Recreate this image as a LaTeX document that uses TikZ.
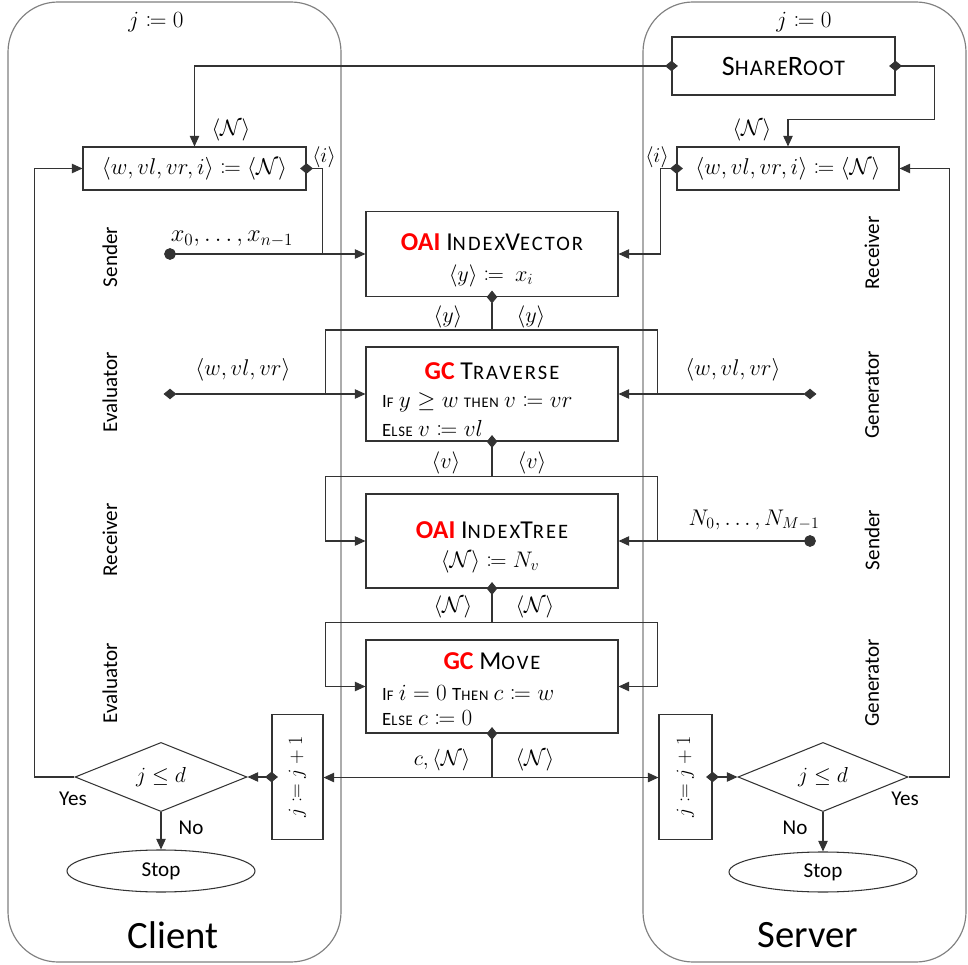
\documentclass[tikz,border=0pt]{standalone}
\usepackage{fix-cm}
\usepackage{amsmath,amssymb,mathtools}
\usepackage{fontspec}
\setmainfont{Carlito}
\usetikzlibrary{arrows.meta,shapes.geometric,calc}

\definecolor{lanegray}{HTML}{808080}
\definecolor{linegray}{HTML}{333333}
\definecolor{protored}{HTML}{FF0000}

\newcommand\pxu{0.3mm}
\newcommand\fs[1]{\fontsize{#1}{#1}\selectfont}
% hand-made small capitals for titles and box lines
\newcommand\tsc[2]{{\fs{22}#1}{\fs{17.5}\addfontfeature{LetterSpace=10}#2}}
\newcommand\rsc[2]{{\fs{24}#1}{\fs{19}\addfontfeature{LetterSpace=5}#2}}
\newcommand\lsc[2]{{\fs{16}#1}{\fs{12.5}\addfontfeature{LetterSpace=5}#2}}
\newcommand\proto[1]{\textcolor{protored}{\bfseries #1}}

\tikzset{
  DM/.tip={Diamond[length=11pt,width=9pt]},
  TR/.tip={Triangle[length=9pt,width=8pt]},
  DT/.tip={Circle[length=10pt]},
  conn/.style={draw=linegray, line width=0.9pt},
  dstart/.style={shorten <=-5.5pt},
  dotstart/.style={shorten <=-5pt},
  box/.style={draw=linegray, line width=0.9pt, rectangle, inner sep=0pt},
  lane/.style={draw=lanegray, line width=1pt, rectangle, rounded corners=15mm, inner sep=0pt},
  lbl/.style={inner sep=0pt, font=\fs{19}},
  role/.style={inner sep=0pt, rotate=90, font=\fs{18}},
  title/.style={inner sep=0pt, font=\fs{22}},
  boxline/.style={inner sep=0pt, anchor=west, font=\fs{19.8}},
}

\begin{document}
\begin{tikzpicture}[x=0.3mm, y=-0.3mm]
\useasboundingbox (0,0) rectangle (968,965);

% swim lanes
\node[lane, minimum width=333*\pxu, minimum height=960*\pxu] (client) at (174.5,482) {};
\node[lane, minimum width=323*\pxu, minimum height=960*\pxu] (server) at (804.5,482) {};
\node[lbl, font=\fs{33}] (clientname) at (173,935) {Client};
\node[lbl, font=\fs{33}] (servername) at (808,935) {Server};
\node[lbl, font=\fs{19.8}] (cj0) at (156,22) {$j \coloneqq 0$};
\node[lbl, font=\fs{19.8}] (sj0) at (804,22) {$j \coloneqq 0$};

% roles of each party
\node[role] (crole1) at (110,257) {Sender};
\node[role] (crole2) at (110,392) {Evaluator};
\node[role] (crole3) at (110,540) {Receiver};
\node[role] (crole4) at (110,683) {Evaluator};
\node[role] (srole1) at (872,253) {Receiver};
\node[role] (srole2) at (872,395) {Generator};
\node[role] (srole3) at (872,540) {Sender};
\node[role] (srole4) at (872,683) {Generator};

% boxes
\node[box, minimum width=223*\pxu, minimum height=58*\pxu, font=\fs{24}] (share) at (783.5,66) {\rsc{S}{HARE}\rsc{R}{OOT}};
\node[box, minimum width=223*\pxu, minimum height=43*\pxu, font=\fs{19.5}] (cinit) at (194.5,168.5) {$\langle w, vl, vr, i\rangle \coloneqq \langle\mathcal{N}\rangle$};
\node[box, minimum width=222*\pxu, minimum height=43*\pxu, font=\fs{19.5}] (sinit) at (788,168.5) {$\langle w, vl, vr, i\rangle \coloneqq \langle\mathcal{N}\rangle$};

\node[box, minimum width=252*\pxu, minimum height=85*\pxu] (ivec) at (492,254) {};
\node[title] (ivect) at (492,242) {\proto{OAI} \tsc{I}{NDEX}\tsc{V}{ECTOR}};
\node[lbl, font=\fs{19}] (ivecl) at (491,276) {$\langle y\rangle \coloneqq\ x_i$};

\node[box, minimum width=252*\pxu, minimum height=94*\pxu] (trav) at (492,394) {};
\node[title] (travt) at (492,371) {\proto{GC} \tsc{T}{RAVERSE}};
\node[boxline] (trav1) at (382,402) {\lsc{I}{F} $y \geq w$ {\fs{12.5}\addfontfeature{LetterSpace=5}THEN} $v \coloneqq vr$};
\node[boxline] (trav2) at (382,428) {\lsc{E}{LSE} $v \coloneqq vl$};

\node[box, minimum width=252*\pxu, minimum height=94*\pxu] (itree) at (492,541) {};
\node[title] (itreet) at (492,530) {\proto{OAI} \tsc{I}{NDEX}\tsc{T}{REE}};
\node[lbl, font=\fs{19.2}] (itreel) at (490,562) {$\langle\mathcal{N}\rangle \coloneqq N_v$};

\node[box, minimum width=252*\pxu, minimum height=93*\pxu] (move) at (492,686.5) {};
\node[title] (movet) at (492,661) {\proto{GC} \tsc{M}{OVE}};
\node[boxline] (move1) at (382,693) {\lsc{I}{F} $i = 0$ \lsc{T}{HEN} $c \coloneqq w$};
\node[boxline] (move2) at (382,718) {\lsc{E}{LSE} $c \coloneqq 0$};

\node[box, minimum width=51*\pxu, minimum height=125*\pxu] (cinc) at (297.5,777) {};
\node[lbl, rotate=90, font=\fs{17.3}] (cinct) at (cinc.center) {$j \coloneqq j+1$};
\node[box, minimum width=53*\pxu, minimum height=125*\pxu] (sinc) at (685.5,777) {};
\node[lbl, rotate=90, font=\fs{17.3}] (sinct) at (sinc.center) {$j \coloneqq j+1$};

\node[draw=linegray, line width=0.9pt, diamond, minimum width=172*\pxu, minimum height=59*\pxu, inner sep=0pt, font=\fs{18.5}] (cdec) at (161,777) {$j \leq d$};
\node[draw=linegray, line width=0.9pt, diamond, minimum width=170*\pxu, minimum height=59*\pxu, inner sep=0pt, font=\fs{18.5}] (sdec) at (823,777) {$j \leq d$};

\node[draw=linegray, line width=0.9pt, ellipse, minimum width=188*\pxu, minimum height=42*\pxu, inner sep=0pt, font=\fs{18}] (cstop) at (161,871) {Stop};
\node[draw=linegray, line width=0.9pt, ellipse, minimum width=188*\pxu, minimum height=40*\pxu, inner sep=0pt, font=\fs{18}] (sstop) at (823,872) {Stop};

% root shares
\draw[conn, DM-TR, dstart] (share.west) -| (cinit.north);
\draw[conn, DM-TR, dstart] (share.east) -- ++(39,0) |- ($(sinit.north)+(0,-27)$) -- (sinit.north);
\node[lbl] (nlab1) at (231,130) {$\langle\mathcal{N}\rangle$};
\node[lbl] (nlab2) at (752,130) {$\langle\mathcal{N}\rangle$};

% index vector inputs
\coordinate (x0dot) at (170,254);
\coordinate (ndot) at (810,541);
\coordinate (cwv) at (170,394);
\coordinate (swv) at (810,394);
\draw[conn, DM-, dstart] (cinit.east) -| ($(ivec.west)+(-43,0)$);
\draw[conn, DT-TR, dotstart] (x0dot) -- (ivec.west);
\draw[conn, DM-TR, dstart] (sinit.west) -| ($(ivec.east)+(42,0)$) -- (ivec.east);
\node[lbl, font=\fs{18}] (ilab1) at (324,157) {$\langle i\rangle$};
\node[lbl, font=\fs{18}] (ilab2) at (657,157) {$\langle i\rangle$};
\node[lbl, font=\fs{20.9}] (xlab) at (232,239) {$x_0, \dots, x_{n-1}$};

% index vector to traverse
\coordinate (ys) at ($(ivec.south)+(0,33)$);
\draw[conn, DM-, dstart] (ivec.south) -- (ys);
\draw[conn] (ys) -| ($(trav.west)+(-40,0)$);
\draw[conn] (ys) -| ($(trav.east)+(39,0)$);
\draw[conn, DM-TR, dstart] (cwv) -- (trav.west);
\draw[conn, DM-TR, dstart] (swv) -- (trav.east);
\node[lbl] (ylab1) at (448,317) {$\langle y\rangle$};
\node[lbl] (ylab2) at (531,317) {$\langle y\rangle$};
\node[lbl, font=\fs{19.4}] (wlab1) at (243,370) {$\langle w, vl, vr\rangle$};
\node[lbl, font=\fs{19.4}] (wlab2) at (733,370) {$\langle w, vl, vr\rangle$};

% traverse to index tree
\coordinate (vs) at ($(trav.south)+(0,35)$);
\draw[conn, DM-, dstart] (trav.south) -- (vs);
\draw[conn, -TR] (vs) -| ($(itree.west)+(-40,0)$) -- (itree.west);
\draw[conn] (vs) -| ($(itree.east)+(39,0)$);
\draw[conn, DT-TR, dotstart] (ndot) -- (itree.east);
\node[lbl] (vlab1) at (446,463) {$\langle v\rangle$};
\node[lbl] (vlab2) at (532,463) {$\langle v\rangle$};
\node[lbl, font=\fs{19.3}] (nvlab) at (754,520) {$N_0, \dots, N_{M-1}$};

% index tree to move
\coordinate (ns) at ($(itree.south)+(0,34)$);
\draw[conn, DM-, dstart] (itree.south) -- (ns);
\draw[conn, -TR] (ns) -| ($(move.west)+(-40,0)$) -- (move.west);
\draw[conn, -TR] (ns) -| ($(move.east)+(39,0)$) -- (move.east);
\node[lbl] (nlab3) at (453,607) {$\langle\mathcal{N}\rangle$};
\node[lbl] (nlab4) at (535,607) {$\langle\mathcal{N}\rangle$};

% move to the counters
\coordinate (cs) at ($(move.south)+(0,44)$);
\draw[conn, DM-, dstart] (move.south) -- (cs);
\draw[conn, -TR] (cs) -- (cs -| cinc.east);
\draw[conn, -TR] (cs) -- (cs -| sinc.west);
\node[lbl, font=\fs{18.5}] (clab) at (442,760) {$c, \langle\mathcal{N}\rangle$};
\node[lbl] (nlab5) at (535,760) {$\langle\mathcal{N}\rangle$};

% loop control
\draw[conn, DM-TR, dstart] (cinc.west) -- (cdec.east);
\draw[conn, DM-TR, dstart] (sinc.east) -- (sdec.west);
\draw[conn, -TR] (cdec.west) -- ++(-40,0) |- (cinit.west);
\draw[conn, -TR] (sdec.east) -- ++(41,0) |- (sinit.east);
\draw[conn, -TR] (cdec.south) -- (cstop.north);
\draw[conn, -TR] (sdec.south) -- (sstop.north);
\node[lbl, font=\fs{18}] (cyes) at (73,799) {Yes};
\node[lbl, font=\fs{18}] (cno) at (191,828) {No};
\node[lbl, font=\fs{18}] (syes) at (905,799) {Yes};
\node[lbl, font=\fs{18}] (sno) at (795,828) {No};
\end{tikzpicture}
\end{document}
